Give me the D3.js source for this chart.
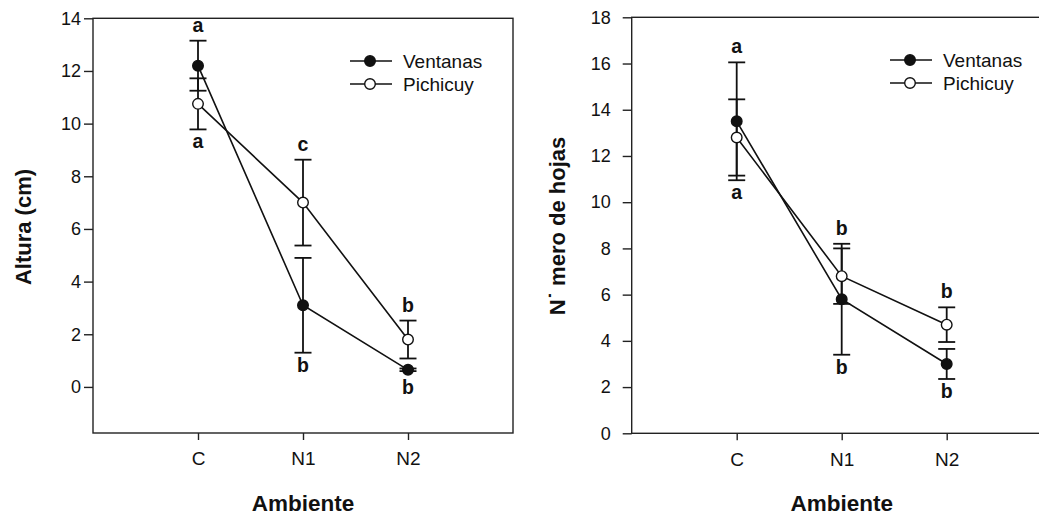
<!DOCTYPE html>
<html>
<head>
<meta charset="utf-8">
<script src="https://cdn.jsdelivr.net/npm/d3@7"></script>
<style>
  html, body { margin: 0; padding: 0; background: #fff; }
  svg { display: block; }
  text { font-family: "Liberation Sans", Arial, sans-serif; fill: #111; }
</style>
</head>
<body>
<svg id="chart" width="1039" height="516"></svg>
<script>
// ---- data ----
const categories = ["C", "N1", "N2"];
const seriesNames = ["Ventanas", "Pichicuy"];

// Panel 1: Altura (cm)
const alturaVentanas = [12.2, 3.1, 0.65];
const alturaVentanasErr = [0.95, 1.8, 0.05];
const alturaPichicuy = [10.75, 7.0, 1.8];
const alturaPichicuyErr = [0.97, 1.63, 0.72];
const alturaLettersVentanas = ["a", "b", "b"];
const alturaLettersPichicuy = ["a", "c", "b"];
const alturaTicks = [0, 2, 4, 6, 8, 10, 12, 14];

// Panel 2: Número de hojas
const hojasVentanas = [13.5, 5.8, 3.0];
const hojasVentanasErr = [2.55, 2.4, 0.65];
const hojasPichicuy = [12.8, 6.8, 4.7];
const hojasPichicuyErr = [1.65, 1.2, 0.75];
const hojasLettersVentanas = ["a", "b", "b"];
const hojasLettersPichicuy = ["a", "b", "b"];
const hojasTicks = [0, 2, 4, 6, 8, 10, 12, 14, 16, 18];

const svg = d3.select("#chart");

function panel(cfg) {
  const x = d3.scaleLinear().domain([0, 4]).range([cfg.x0, cfg.x0 + 420]);
  const y = d3.scaleLinear().domain(cfg.yDomain).range([cfg.yBottom, cfg.yTop]);
  const g = svg.append("g");

  // frame
  g.append("rect")
    .attr("x", x(0)).attr("y", y(cfg.yDomain[1]))
    .attr("width", x(4) - x(0)).attr("height", y(cfg.yDomain[0]) - y(cfg.yDomain[1]))
    .attr("fill", "none").attr("stroke", "#222").attr("stroke-width", 1.4);

  // y axis
  const ya = g.append("g").attr("transform", `translate(${x(0)},0)`)
    .call(d3.axisLeft(y).tickValues(cfg.ticks).tickSize(9).tickSizeOuter(0).tickPadding(cfg.tickPad).tickFormat(d3.format("d")));
  ya.select(".domain").remove();
  ya.selectAll("line").attr("stroke", "#222").attr("stroke-width", 1.4);
  ya.selectAll("text").style("font-size", "18px").style("font-family", "Liberation Sans, Arial, sans-serif").attr("fill", "#111");

  // x axis
  const xa = g.append("g").attr("transform", `translate(0,${y(cfg.yDomain[0])})`)
    .call(d3.axisBottom(x).tickValues([1, 2, 3]).tickSize(7).tickSizeOuter(0).tickPadding(12)
      .tickFormat((d) => categories[d - 1]));
  xa.select(".domain").remove();
  xa.selectAll("line").attr("stroke", "#222").attr("stroke-width", 1.4);
  xa.selectAll("text").style("font-size", "19px").style("font-family", "Liberation Sans, Arial, sans-serif").attr("fill", "#111");

  // axis titles
  g.append("text")
    .attr("x", x(2)).attr("y", 511)
    .attr("text-anchor", "middle")
    .style("font-size", "22.5px").style("font-weight", "bold")
    .text("Ambiente");
  g.append("text")
    .attr("transform", `translate(${cfg.titleX},${cfg.titleY}) rotate(-90)`)
    .attr("text-anchor", "middle")
    .style("font-size", "22px").style("font-weight", "bold")
    .text(cfg.yTitle);

  const series = [
    { name: seriesNames[0], vals: cfg.v, err: cfg.ve, letters: cfg.lv, fill: "#111" },
    { name: seriesNames[1], vals: cfg.p, err: cfg.pe, letters: cfg.lp, fill: "#fff" }
  ];

  const line = d3.line().x((d, i) => x(i + 1)).y((d) => y(d));

  // error bars
  series.forEach((s) => {
    s.vals.forEach((v, i) => {
      const cx = x(i + 1);
      const hi = y(v + s.err[i]), lo = y(v - s.err[i]);
      g.append("line").attr("x1", cx).attr("x2", cx).attr("y1", hi).attr("y2", lo)
        .attr("stroke", "#111").attr("stroke-width", 1.8);
      [hi, lo].forEach((yy) => {
        g.append("line").attr("x1", cx - 8.5).attr("x2", cx + 8.5).attr("y1", yy).attr("y2", yy)
          .attr("stroke", "#111").attr("stroke-width", 1.8);
      });
    });
  });

  // lines
  series.forEach((s) => {
    g.append("path").datum(s.vals).attr("d", line)
      .attr("fill", "none").attr("stroke", "#111").attr("stroke-width", 1.6);
  });

  // points
  series.forEach((s) => {
    g.selectAll(null).data(s.vals).enter().append("circle")
      .attr("cx", (d, i) => x(i + 1)).attr("cy", (d) => y(d))
      .attr("r", 5.3)
      .attr("fill", s.fill).attr("stroke", "#111").attr("stroke-width", 1.4);
  });

  // significance letters: series with highest upper end gets letter above,
  // the other series gets letter below the lowest bar end
  categories.forEach((c, i) => {
    const a = series[0], b = series[1];
    const upper = (a.vals[i] + a.err[i]) >= (b.vals[i] + b.err[i]) ? a : b;
    const lower = upper === a ? b : a;
    const cx = x(i + 1);
    g.append("text").attr("x", cx).attr("y", y(upper.vals[i] + upper.err[i]) - 9)
      .attr("text-anchor", "middle").style("font-size", "19.5px").style("font-weight", "bold")
      .text(upper.letters[i]);
    const minLow = Math.min(a.vals[i] - a.err[i], b.vals[i] - b.err[i]);
    const minVal = Math.min(a.vals[i], b.vals[i]);
    const lowEdge = Math.max(y(minLow), y(minVal) + 5);
    g.append("text").attr("x", cx).attr("y", lowEdge + 19)
      .attr("text-anchor", "middle").style("font-size", "19.5px").style("font-weight", "bold")
      .text(lower.letters[i]);
  });

  // legend
  series.forEach((s, k) => {
    const ly = cfg.legY + k * 23;
    g.append("line").attr("x1", cfg.legX).attr("x2", cfg.legX + 42).attr("y1", ly).attr("y2", ly)
      .attr("stroke", "#111").attr("stroke-width", 1.6);
    g.append("circle").attr("cx", cfg.legX + 20).attr("cy", ly).attr("r", 5.3)
      .attr("fill", s.fill).attr("stroke", "#111").attr("stroke-width", 1.4);
    g.append("text").attr("x", cfg.legX + 53).attr("y", ly + 7)
      .style("font-size", "19px").text(s.name);
  });
}

panel({
  x0: 93, yDomain: [-1.75, 14], yBottom: 433, yTop: 18.3, ticks: alturaTicks, tickPad: 3,
  v: alturaVentanas, ve: alturaVentanasErr, p: alturaPichicuy, pe: alturaPichicuyErr,
  lv: alturaLettersVentanas, lp: alturaLettersPichicuy,
  yTitle: "Altura (cm)", titleX: 31, titleY: 227,
  legX: 350, legY: 61
});

panel({
  x0: 631.7, yDomain: [0, 18], yBottom: 433.3, yTop: 17.3, ticks: hojasTicks, tickPad: 12,
  v: hojasVentanas, ve: hojasVentanasErr, p: hojasPichicuy, pe: hojasPichicuyErr,
  lv: hojasLettersVentanas, lp: hojasLettersPichicuy,
  yTitle: "N˙ mero de hojas", titleX: 565, titleY: 226,
  legX: 890, legY: 60
});
</script>
</body>
</html>
